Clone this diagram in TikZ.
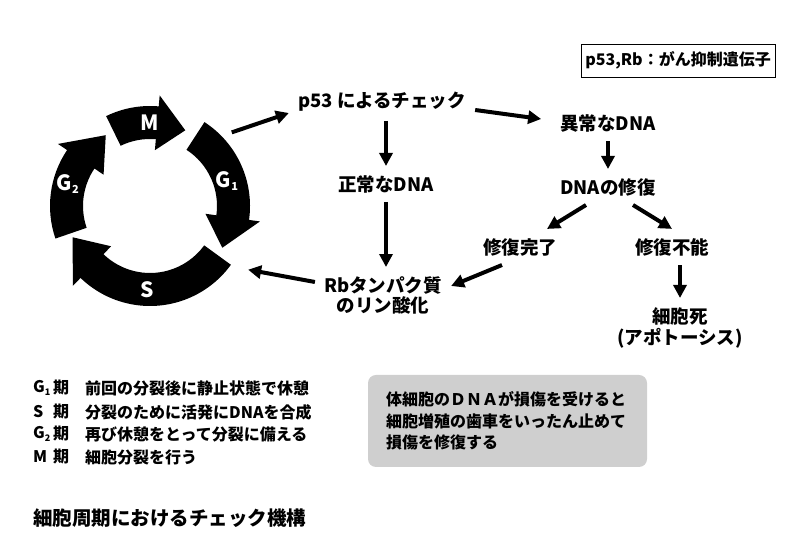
\documentclass[tikz,border=0pt]{standalone}
\usepackage{fontspec}
\setmainfont{Noto Sans CJK JP}
\usetikzlibrary{arrows.meta}
\definecolor{boxgray}{RGB}{207,207,207}
\newcommand{\phidx}[1]{\raisebox{-0.35ex}{\fontsize{9bp}{9bp}\selectfont #1}}
\newcommand{\phbig}[1]{\raisebox{-0.3ex}{\fontsize{11bp}{11bp}\selectfont #1}}

\begin{document}
\begin{tikzpicture}[x=1bp, y=1bp,
  lbl/.style={inner sep=9bp, font=\fontsize{18.5bp}{20bp}\selectfont\bfseries, align=center},
  phase/.style={text=white, inner sep=0pt, font=\fontsize{21bp}{21bp}\selectfont\bfseries},
  arr/.style={line width=4bp, -{Triangle[length=13bp,width=13bp]}},
  leg/.style={anchor=west, inner sep=0pt, font=\fontsize{16bp}{16bp}\selectfont\bfseries}]
\useasboundingbox (0,0) rectangle (800,552);

% cell cycle
\begin{scope}[shift={(150,346)}]
  \foreach \a/\b/\t in {116/85/65, 57/-8/-30, -36/-134/-158, 199/146/122}
    \fill (\a:100) arc[start angle=\a, end angle=\b, radius=100] -- (\b:111)
      -- (\t:83.5) -- (\b:56) -- (\b:67) arc[start angle=\b, end angle=\a, radius=67] -- cycle;
  \node[phase] (m) at (90:83) {M};
  \node[phase] (g1) at (18:81) {G\phbig{1}};
  \node[phase] (s) at (268:84) {S};
  \node[phase] (g2) at (165:85) {G\phbig{2}};
  \coordinate (c1) at (42:110);
  \coordinate (c2) at (-33:117);
\end{scope}

\node[lbl] (p53) at (382,450) {p53 によるチェック};
\node[lbl] (norm) at (386,368) {正常なDNA};
\node[lbl] (rb) at (383,257) {Rbタンパク質\\のリン酸化};
\node[lbl] (abn) at (608,429) {異常なDNA};
\node[lbl] (rep) at (608,365) {DNAの修復};
\node[lbl] (done) at (520,305) {修復完了};
\node[lbl] (fail) at (672,305) {修復不能};
\node[lbl, font=\fontsize{18.5bp}{21bp}\selectfont\bfseries] (death) at (680,224.5) {細胞死\\(アポトーシス)};

\node[draw, line width=0.8bp, minimum width=194bp, minimum height=33bp,
  font=\fontsize{16bp}{16bp}\selectfont\bfseries] (key) at (678,491.5) {p53,Rb：がん抑制遺伝子};

\draw[arr] (c1) -- ([yshift=-11bp]p53.west);
\draw[arr] ([yshift=-8bp]p53.east) -- ([xshift=-10bp,yshift=4bp]abn.west);
\draw[arr] (norm.north |- p53.south) -- (norm.north);
\draw[arr] (norm.south) -- (norm.south |- rb.north);
\draw[arr] ([yshift=13bp]rb.west) -- (c2);
\draw[arr] (abn.south) -- (rep.north);
\draw[arr] ([xshift=-22bp]rep.south) -- ([xshift=27bp]done.north);
\draw[arr] ([xshift=25bp]rep.south) -- (fail.north);
\draw[arr] ([xshift=-18bp]done.south) -- ([yshift=9bp]rb.east);
\draw[arr] (death.north |- fail.south) -- (death.north);

% legend
\node[leg] (l1) at (33,164) {G\phidx{1}};
\node[leg] (l2) at (33,140) {S};
\node[leg] (l3) at (33,118) {G\phidx{2}};
\node[leg] (l4) at (33,95) {M};
\foreach \y [count=\i] in {164,140,118,95}
  \node[leg] (k\i) at (53,\y) {期};
\node[leg] (d1) at (85,164) {前回の分裂後に静止状態で休憩};
\node[leg] (d2) at (85,140) {分裂のために活発にDNAを合成};
\node[leg] (d3) at (85,118) {再び休憩をとって分裂に備える};
\node[leg] (d4) at (85,95) {細胞分裂を行う};

\node[fill=boxgray, rounded corners=8bp, minimum width=279bp, minimum height=92bp,
  text width=243bp, inner xsep=18bp, align=left,
  font=\fontsize{16bp}{21.5bp}\selectfont\bfseries] (note) at (507.5,131)
  {体細胞のＤＮＡが損傷を受けると\\細胞増殖の歯車をいったん止めて\\損傷を修復する};

\node[leg, font=\fontsize{19.5bp}{19.5bp}\selectfont\bfseries] (title) at (33,34) {細胞周期におけるチェック機構};
\end{tikzpicture}
\end{document}
